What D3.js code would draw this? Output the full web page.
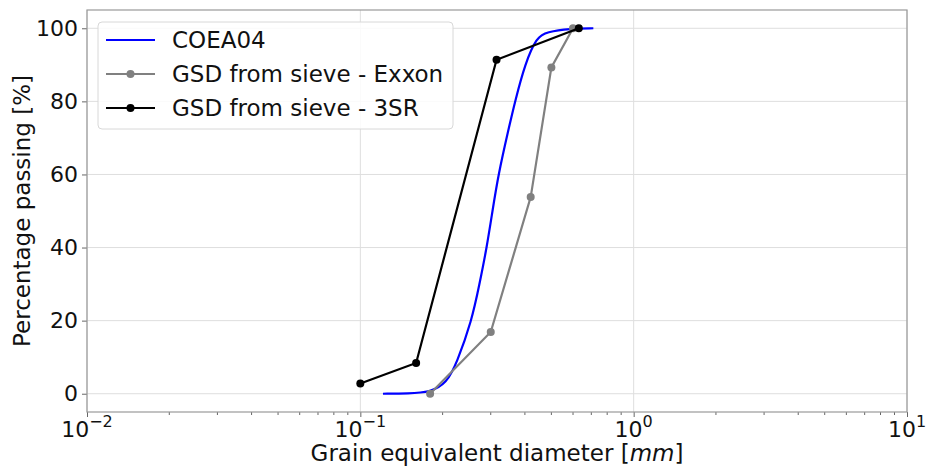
<!DOCTYPE html>
<html>
<head>
<meta charset="utf-8">
<script src="https://cdn.jsdelivr.net/npm/d3@7/dist/d3.min.js"></script>
<style>
  html, body { margin: 0; padding: 0; background: #fff; }
  svg { display: block; font-family: "DejaVu Sans", sans-serif; }
</style>
</head>
<body>
<svg id="chart" width="927" height="468"></svg>
<script>
// ---- data ----
const coeaX = [0.121, 0.150, 0.180, 0.207, 0.2253, 0.2557, 0.2725, 0.2901, 0.3041, 0.3199, 0.3478, 0.3681, 0.4005, 0.4418, 0.4808, 0.585, 0.712];
const coeaY = [0.0, 0.05, 0.4, 2.9, 8.4, 20.0, 29.8, 40.0, 49.8, 60.0, 72.1, 80.0, 90.3, 97.6, 99.0, 99.9, 100.0];
const exxonX = [0.18, 0.30, 0.42, 0.50, 0.60];
const exxonY = [0.0, 16.9, 53.8, 89.3, 100.0];
const srX = [0.10, 0.16, 0.315, 0.63];
const srY = [2.8, 8.4, 91.4, 100.0];
const yTicks = [0, 20, 40, 60, 80, 100];
const xTicks = [0.01, 0.1, 1, 10];
const xTickExp = ["\u22122", "\u22121", "0", "1"];
const seriesNames = ["COEA04", "GSD from sieve - Exxon", "GSD from sieve - 3SR"];

// ---- layout ----
const svg = d3.select("#chart");
const L = 87, R = 907, T = 10, B = 412;
const x = d3.scaleLog().domain([0.01, 10]).range([L, R]);
const y = d3.scaleLinear().domain([-5, 105]).range([B, T]);
const fsTick = 22, fsLab = 23, fsLeg = 23;

// grid
const g = svg.append("g");
g.selectAll("line.hg").data(yTicks).enter().append("line")
  .attr("x1", L).attr("x2", R).attr("y1", d => y(d)).attr("y2", d => y(d))
  .attr("stroke", "#dedede").attr("stroke-width", 1);
g.selectAll("line.vg").data(xTicks).enter().append("line")
  .attr("y1", T).attr("y2", B).attr("x1", d => x(d)).attr("x2", d => x(d))
  .attr("stroke", "#dedede").attr("stroke-width", 1);

// axes
const xAxis = d3.axisBottom(x).tickValues(xTicks).tickSize(5).tickFormat("");
const gx = svg.append("g").attr("transform", `translate(0,${B})`).call(xAxis);
gx.select(".domain").remove();
gx.selectAll(".tick line").attr("stroke", "#666");
const minor = [];
for (let e = -2; e < 1; e++) for (let m = 2; m <= 9; m++) minor.push(m * Math.pow(10, e));
svg.append("g").selectAll("line").data(minor).enter().append("line")
  .attr("x1", d => x(d)).attr("x2", d => x(d)).attr("y1", B).attr("y2", B + 3)
  .attr("stroke", "#666").attr("stroke-width", 1);

const yAxis = d3.axisLeft(y).tickValues(yTicks).tickSize(5).tickPadding(4);
const gy = svg.append("g").attr("transform", `translate(${L},0)`).call(yAxis);
gy.select(".domain").remove();
gy.selectAll(".tick line").attr("stroke", "#666");
gy.selectAll(".tick text").attr("font-size", fsTick).attr("font-family", "DejaVu Sans").attr("fill", "#111");

// x tick labels with superscripts
const xl = svg.append("g");
xTicks.forEach((t, i) => {
  const txt = xl.append("text").attr("x", x(t)).attr("y", 437)
    .attr("text-anchor", "middle").attr("font-size", fsTick).attr("fill", "#111");
  txt.append("tspan").text("10");
  txt.append("tspan").attr("dy", -10).attr("font-size", 16).text(xTickExp[i]);
});

// frame
svg.append("rect").attr("x", L).attr("y", T).attr("width", R - L).attr("height", B - T)
  .attr("fill", "none").attr("stroke", "#999").attr("stroke-width", 1.2);

// lines
const plot = svg.append("g");
const smooth = d3.line().x(d => x(d[0])).y(d => y(d[1])).curve(d3.curveBasis);
const straight = d3.line().x(d => x(d[0])).y(d => y(d[1]));

plot.append("path").datum(coeaX.map((v, i) => [v, coeaY[i]]))
  .attr("d", smooth).attr("fill", "none").attr("stroke", "#0000ff").attr("stroke-width", 2.2);

const exxon = exxonX.map((v, i) => [v, exxonY[i]]);
plot.append("path").datum(exxon).attr("d", straight)
  .attr("fill", "none").attr("stroke", "#808080").attr("stroke-width", 2.2);
plot.selectAll("circle.ex").data(exxon).enter().append("circle")
  .attr("cx", d => x(d[0])).attr("cy", d => y(d[1])).attr("r", 4).attr("fill", "#808080");

const sr = srX.map((v, i) => [v, srY[i]]);
plot.append("path").datum(sr).attr("d", straight)
  .attr("fill", "none").attr("stroke", "#000").attr("stroke-width", 2.2);
plot.selectAll("circle.sr").data(sr).enter().append("circle")
  .attr("cx", d => x(d[0])).attr("cy", d => y(d[1])).attr("r", 4).attr("fill", "#000");

// legend
const lg = svg.append("g");
lg.append("rect").attr("x", 98).attr("y", 22).attr("width", 355).attr("height", 107)
  .attr("rx", 4).attr("fill", "#fff").attr("fill-opacity", 0.85)
  .attr("stroke", "#d8d8d8").attr("stroke-width", 1);
const lcol = ["#0000ff", "#808080", "#000"];
const lmark = [false, true, true];
const ly = [40, 74, 108];
seriesNames.forEach((n, i) => {
  lg.append("line").attr("x1", 106).attr("x2", 155).attr("y1", ly[i]).attr("y2", ly[i])
    .attr("stroke", lcol[i]).attr("stroke-width", 2.2);
  if (lmark[i]) lg.append("circle").attr("cx", 130.5).attr("cy", ly[i]).attr("r", 4).attr("fill", lcol[i]);
  lg.append("text").attr("x", 172).attr("y", ly[i]).attr("dy", "0.36em")
    .attr("font-size", fsLeg).attr("fill", "#111").text(n);
});

// axis labels
const xlab = svg.append("text").attr("x", (L + R) / 2).attr("y", 461)
  .attr("text-anchor", "middle").attr("font-size", fsLab).attr("fill", "#111");
xlab.append("tspan").text("Grain equivalent diameter [");
xlab.append("tspan").attr("font-style", "italic").text("mm");
xlab.append("tspan").text("]");

svg.append("text").attr("transform", `translate(30,${(T + B) / 2}) rotate(-90)`)
  .attr("text-anchor", "middle").attr("font-size", fsLab).attr("fill", "#111")
  .text("Percentage passing [%]");
</script>
</body>
</html>
